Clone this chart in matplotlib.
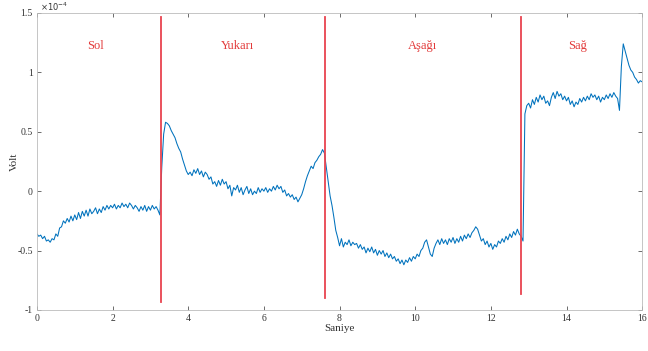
import numpy as np
import matplotlib
matplotlib.use("Agg")
import matplotlib.pyplot as plt

plt.rcParams['font.family'] = ['Liberation Serif', 'DejaVu Serif']

# sinyal degerleri (x1e-4 V), 0.05 s aralikla okunmus
sol = [-0.36, -0.38, -0.37, -0.40, -0.38, -0.42, -0.41, -0.43, -0.40, -0.41,
       -0.36, -0.38, -0.31, -0.30, -0.25, -0.27, -0.23, -0.26, -0.21, -0.25,
       -0.20, -0.24, -0.18, -0.23, -0.17, -0.21, -0.16, -0.21, -0.15, -0.19,
       -0.17, -0.14, -0.19, -0.15, -0.18, -0.13, -0.16, -0.12, -0.15, -0.12,
       -0.14, -0.11, -0.15, -0.12, -0.14, -0.10, -0.13, -0.11, -0.14, -0.10,
       -0.12, -0.15, -0.12, -0.14, -0.17, -0.13, -0.16, -0.12, -0.17, -0.13,
       -0.16, -0.12, -0.15, -0.13, -0.16, -0.20]
yukari = [0.20, 0.48, 0.58, 0.57, 0.55, 0.51, 0.48, 0.45, 0.40, 0.36,
          0.33, 0.27, 0.22, 0.17, 0.14, 0.16, 0.13, 0.18, 0.15, 0.19,
          0.14, 0.17, 0.12, 0.16, 0.14, 0.10, 0.12, 0.06, 0.08, 0.04,
          0.09, 0.05, 0.10, 0.06, 0.08, 0.02, 0.05, -0.04, 0.03, 0.01,
          0.05, -0.01, 0.03, -0.03, 0.01, 0.04, -0.02, 0.02, -0.03, 0.00,
          -0.02, 0.03, -0.01, 0.02, 0.00, 0.03, -0.01, 0.02, 0.00, 0.04,
          0.01, 0.05, 0.02, 0.04, -0.01, 0.01, -0.04, -0.02, -0.05, -0.03,
          -0.07, -0.05, -0.09, -0.06, -0.03, 0.02, 0.08, 0.13, 0.17, 0.21,
          0.19, 0.24, 0.26, 0.29, 0.31, 0.35, 0.32]
asagi = [0.20, 0.08, -0.04, -0.12, -0.22, -0.33, -0.39,
         -0.46, -0.40, -0.47, -0.43, -0.45, -0.41, -0.46, -0.43, -0.45, -0.44,
         -0.48, -0.45, -0.49, -0.47, -0.52, -0.48, -0.51, -0.47, -0.52, -0.49,
         -0.54, -0.50, -0.53, -0.50, -0.55, -0.52, -0.56, -0.53, -0.57, -0.55,
         -0.59, -0.57, -0.61, -0.58, -0.62, -0.58, -0.60, -0.56, -0.59, -0.55,
         -0.57, -0.53, -0.55, -0.50, -0.48, -0.43, -0.41, -0.47, -0.53, -0.55,
         -0.48, -0.44, -0.41, -0.45, -0.40, -0.44, -0.41, -0.45, -0.40, -0.43,
         -0.39, -0.44, -0.40, -0.43, -0.38, -0.42, -0.37, -0.40, -0.36, -0.39,
         -0.35, -0.33, -0.30, -0.32, -0.37, -0.42, -0.40, -0.45, -0.42, -0.47,
         -0.44, -0.49, -0.45, -0.47, -0.42, -0.44, -0.40, -0.43, -0.38, -0.41,
         -0.36, -0.39, -0.34, -0.37, -0.32, -0.36, -0.38, -0.42]
sag = [0.65, 0.72, 0.74, 0.70, 0.77, 0.73, 0.79, 0.75, 0.81, 0.77,
       0.80, 0.74, 0.76, 0.72, 0.79, 0.83, 0.78, 0.84, 0.80, 0.82,
       0.77, 0.80, 0.76, 0.79, 0.73, 0.76, 0.71, 0.75, 0.73, 0.78,
       0.75, 0.79, 0.76, 0.80, 0.77, 0.82, 0.79, 0.81, 0.77, 0.80,
       0.75, 0.79, 0.77, 0.81, 0.78, 0.82, 0.79, 0.83, 0.80, 0.78,
       0.68, 1.05, 1.24, 1.18, 1.12, 1.06, 1.02, 1.00, 0.96, 0.94,
       0.91, 0.93, 0.92]

volt = sol + yukari + asagi + sag
saniye = np.arange(len(volt)) * 0.05

# hareket sinirlari
sinirlar = [3.28, 7.62, 12.80]
sinir_alt = [-0.93, -0.90, -0.87]
etiketler = ['Sol', 'Yukarı', 'Aşağı', 'Sağ']
etiket_x = [1.55, 5.3, 10.2, 14.3]

fig = plt.figure(figsize=(6.48, 3.51), dpi=100)
ax = fig.add_axes([0.057, 0.117, 0.934, 0.846])

ax.plot(saniye, volt, color=(0, 0.447, 0.741), linewidth=0.75)
for x, alt in zip(sinirlar, sinir_alt):
    ax.plot([x, x], [1.47, alt], color='#e8434f', linewidth=1.3)
for s, x in zip(etiketler, etiket_x):
    ax.text(x, 1.22, s, color='#e23a3a', fontsize=9, ha='center', va='center')

ax.set_xlim(0, 16)
ax.set_ylim(-1, 1.5)
ax.set_xticks(range(0, 17, 2))
ax.set_yticks([-1, -0.5, 0, 0.5, 1, 1.5])
ax.set_yticklabels(['-1', '-0.5', '0', '0.5', '1', '1.5'])
ax.tick_params(direction='in', top=True, right=True, length=3, width=0.5,
               labelsize=7, colors='#333333', pad=3)
for sp in ax.spines.values():
    sp.set_color('#bbbbbb')
    sp.set_linewidth(0.6)
ax.set_xlabel('Saniye', fontsize=8, labelpad=1, color='#333333')
ax.set_ylabel('Volt', fontsize=8, labelpad=-1, color='#333333')
ax.text(0.005, 1.0, r'$\times 10^{-4}$', transform=ax.transAxes, fontsize=6,
        color='#333333', va='bottom', ha='left')

fig.savefig('out.png', dpi=100)
